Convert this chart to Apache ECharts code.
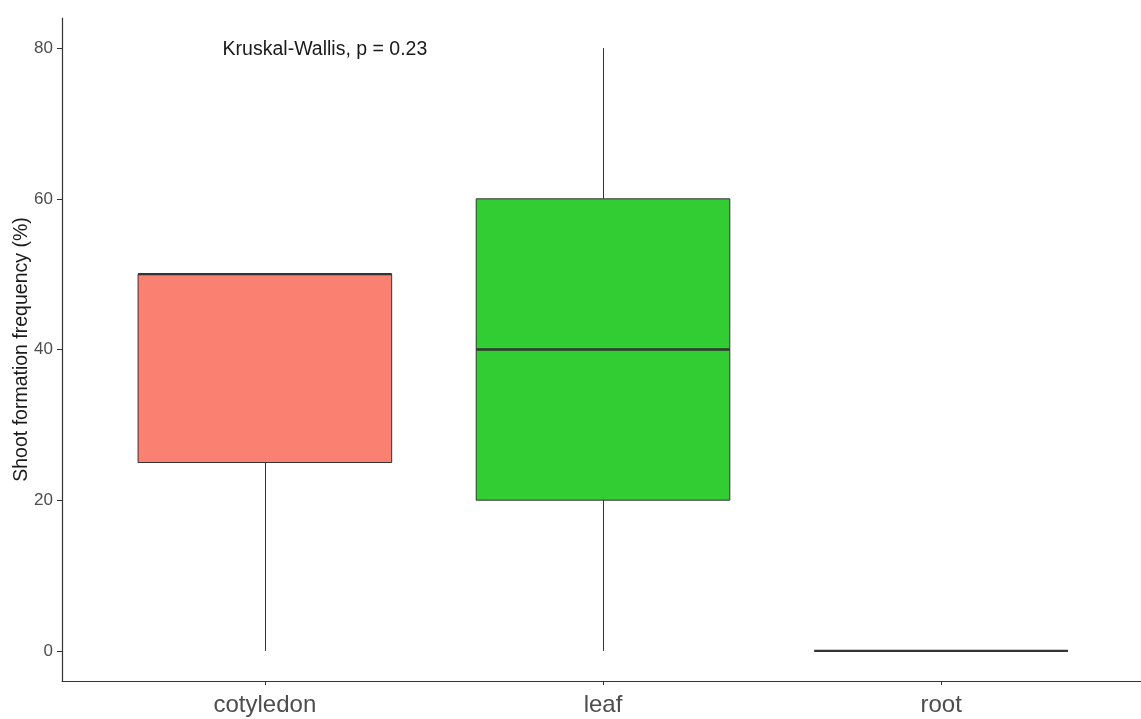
<!DOCTYPE html>
<html>
<head>
<meta charset="utf-8">
<script src="https://cdn.jsdelivr.net/npm/echarts@6/dist/echarts.min.js"></script>
<style>
  html, body { margin: 0; padding: 0; background: #fff; }
  #chart { width: 1141px; height: 719px; }
</style>
</head>
<body>
<div id="chart"></div>
<script>
// Explant types and their box statistics: [min, Q1, median, Q3, max]
const categories = ['cotyledon', 'leaf', 'root'];
const boxStats = [
  [0, 25, 50, 50, 50],
  [0, 20, 40, 60, 80],
  [0, 0, 0, 0, 0]
];
const fillColors = ['#FA8072', '#32CD32', '#1E90FF'];
const xTicks = [1, 2, 3];
const yTicks = [0, 20, 40, 60, 80];
const testLabel = 'Kruskal-Wallis, p = 0.23';
const testLabelPos = [0.875, 80];

const BOX_WIDTH = 0.75;  // in category units
const INK = '#333333';
const FONT = '"Liberation Sans", Arial, sans-serif';

const chart = echarts.init(document.getElementById('chart'), null, { renderer: 'canvas' });

const boxData = boxStats.map((s, i) => [i + 1].concat(s));

function renderBox(params, api) {
  const x = api.value(0);
  const mn = api.value(1), q1 = api.value(2), md = api.value(3), q3 = api.value(4), mx = api.value(5);
  const left = api.coord([x - BOX_WIDTH / 2, q3]);
  const right = api.coord([x + BOX_WIDTH / 2, q1]);
  const pMin = api.coord([x, mn]);
  const pQ1 = api.coord([x, q1]);
  const pQ3 = api.coord([x, q3]);
  const pMax = api.coord([x, mx]);
  const pMedL = api.coord([x - BOX_WIDTH / 2, md]);
  const pMedR = api.coord([x + BOX_WIDTH / 2, md]);
  const color = fillColors[params.dataIndex];
  // snap whisker to a pixel centre so the 1px line stays crisp
  const wx = Math.round(pMin[0]) + 0.5;
  const children = [];
  if (pMin[1] !== pQ1[1]) {
    children.push({ type: 'line', shape: { x1: wx, y1: pMin[1], x2: wx, y2: pQ1[1] },
      style: { stroke: INK, lineWidth: 1 } });
  }
  if (pMax[1] !== pQ3[1]) {
    children.push({ type: 'line', shape: { x1: wx, y1: pQ3[1], x2: wx, y2: pMax[1] },
      style: { stroke: INK, lineWidth: 1 } });
  }
  children.push({ type: 'rect',
    shape: { x: left[0], y: left[1], width: right[0] - left[0], height: right[1] - left[1] },
    style: { fill: color, stroke: INK, lineWidth: 1 } });
  children.push({ type: 'line', shape: { x1: pMedL[0], y1: pMedL[1], x2: pMedR[0], y2: pMedR[1] },
    style: { stroke: INK, lineWidth: 2.4 } });
  return { type: 'group', children: children };
}

function renderLabel(params, api) {
  const p = api.coord([api.value(0), api.value(1)]);
  return { type: 'text', x: p[0], y: p[1] + 1,
    style: { text: testLabel, fill: '#1a1a1a', font: '19.5px ' + FONT,
      align: 'left', verticalAlign: 'middle' } };
}

chart.setOption({
  backgroundColor: '#ffffff',
  animation: false,
  grid: { left: 62, right: -3, top: 18, bottom: 38, containLabel: false, outerBoundsMode: 'none' },
  xAxis: {
    type: 'value', min: 0.4, max: 3.6,
    axisLine: { show: true, onZero: false, lineStyle: { color: INK, width: 1.2 } },
    axisTick: { show: true, length: 4, lineStyle: { color: INK }, customValues: xTicks },
    splitLine: { show: false },
    axisLabel: {
      customValues: xTicks,
      formatter: v => categories[Math.round(v) - 1] || '',
      color: '#4d4d4d', fontSize: 24, fontFamily: FONT, margin: 12
    }
  },
  yAxis: {
    type: 'value', min: -4, max: 84,
    name: 'Shoot formation frequency (%)', nameLocation: 'middle', nameGap: 30,
    nameMoveOverlap: false,
    nameTextStyle: { color: '#1a1a1a', fontSize: 19.5, fontFamily: FONT },
    axisLine: { show: true, onZero: false, lineStyle: { color: INK, width: 1.2 } },
    axisTick: { show: true, length: 5, lineStyle: { color: INK }, customValues: yTicks },
    axisLabel: { color: '#4d4d4d', fontSize: 17, fontFamily: FONT, margin: 9,
      customValues: yTicks },
    splitLine: { show: false }
  },
  series: [
    { type: 'custom', renderItem: renderBox, data: boxData, encode: { x: 0, y: [1, 2, 3, 4, 5] }, clip: false },
    { type: 'custom', renderItem: renderLabel, data: [testLabelPos], encode: { x: 0, y: 1 } }
  ]
});
</script>
</body>
</html>
